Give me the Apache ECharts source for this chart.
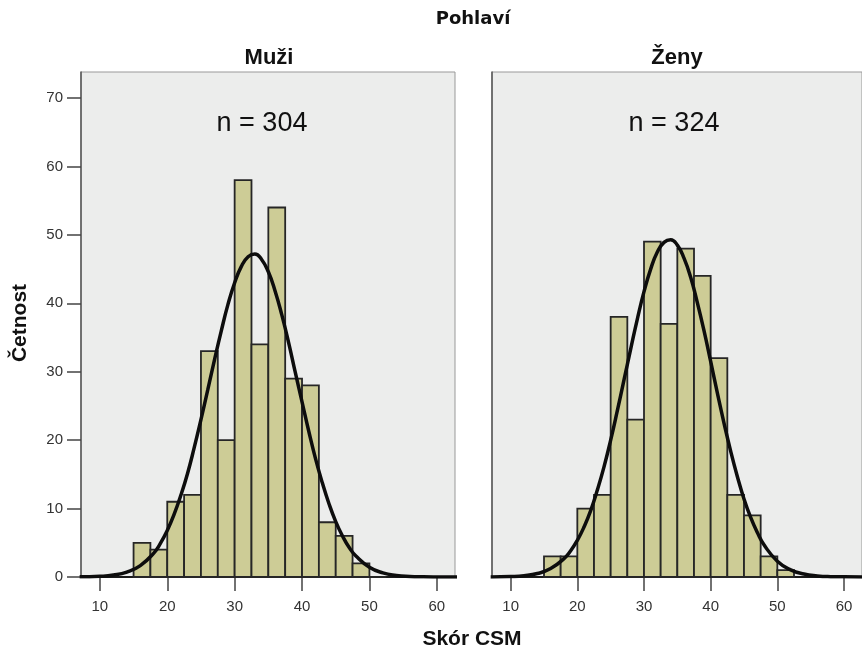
<!DOCTYPE html>
<html>
<head>
<meta charset="utf-8">
<script src="https://cdn.jsdelivr.net/npm/echarts@6.0.0/dist/echarts.min.js"></script>
<style>
  html, body { margin: 0; padding: 0; background: #fff; }
  #chart { width: 862px; height: 650px; }
</style>
</head>
<body>
<div id="chart"></div>
<script>
// histogram bins (width 2.5) and counts
var binWidth = 2.5;
var binStarts = [15, 17.5, 20, 22.5, 25, 27.5, 30, 32.5, 35, 37.5, 40, 42.5, 45, 47.5, 50];
var menCounts = [5, 4, 11, 12, 33, 20, 58, 34, 54, 29, 28, 8, 6, 2, 0];
var womenCounts = [3, 3, 10, 12, 38, 23, 49, 37, 48, 44, 32, 12, 9, 3, 1];

// normal curve as traced on the figure
var curveX = [7, 10, 12, 14, 16, 18, 19, 20, 21, 22, 23, 24, 25, 26, 27, 28, 29, 30,
  31, 32, 33, 34, 35, 36, 37, 38, 39, 40, 41, 42, 43, 44, 45, 46, 47, 48,
  50, 52, 54, 56, 58, 60, 63];
var menCurve = [0.02, 0.10, 0.28, 0.72, 1.67, 3.5, 4.95, 6.8, 9.1, 11.9, 15.1, 18.9, 23.0, 27.3, 31.7, 35.9, 39.8, 43.0,
  45.4, 46.8, 47.2, 46.4, 44.6, 41.8, 38.3, 34.3, 29.9, 25.6, 21.3, 17.3, 13.8, 10.7, 8.1, 6.0, 4.3, 3.07,
  1.43, 0.60, 0.23, 0.08, 0.03, 0.01, 0];
var womenCurve = [0.01, 0.07, 0.19, 0.51, 1.23, 2.69, 3.84, 5.36, 7.3, 9.7, 12.7, 16.1, 20.0, 24.3, 28.8, 33.3, 37.7, 41.7,
  45.0, 47.5, 48.9, 49.3, 48.5, 46.6, 43.8, 40.1, 36.0, 31.5, 26.9, 22.5, 18.4, 14.7, 11.4, 8.7, 6.5, 4.7,
  2.31, 1.04, 0.43, 0.16, 0.05, 0.02, 0];

var xTicks = [10, 20, 30, 40, 50, 60];
var yTicks = [0, 10, 20, 30, 40, 50, 60, 70];

var panelNames = ['Muži', 'Ženy'];
var panelN = ['n = 304', 'n = 324'];

var font = '"Liberation Sans", Arial, sans-serif';

var chart = echarts.init(document.getElementById('chart'));

function pairs(xs, ys) {
  return xs.map(function (x, i) { return [x, ys[i]]; });
}

function renderBin(params, api) {
  var start = api.value(0);
  var count = api.value(1);
  var p0 = api.coord([start, count]);
  var p1 = api.coord([start + binWidth, 0]);
  return {
    type: 'rect',
    shape: { x: p0[0], y: p0[1], width: p1[0] - p0[0], height: p1[1] - p0[1] },
    style: { fill: '#CDCC96', stroke: '#262626', lineWidth: 1.8 }
  };
}

function xAxisFor(i) {
  return {
    type: 'value', gridIndex: i, min: 7.2, max: 62.7,
    splitLine: { show: false },
    axisLine: { show: true, onZero: false, lineStyle: { color: '#1a1a1a', width: 2 } },
    axisTick: { show: true, customValues: xTicks, length: 14, lineStyle: { color: '#444', width: 1.5 } },
    axisLabel: { customValues: xTicks, color: '#333', fontSize: 15, fontFamily: font, margin: 22 }
  };
}

function yAxisFor(i) {
  return {
    type: 'value', gridIndex: i, min: 0, max: 73.8,
    splitLine: { show: false },
    axisLine: { show: true, lineStyle: { color: '#555', width: 1.5 } },
    axisTick: { show: i === 0, customValues: yTicks, length: 14, lineStyle: { color: '#444', width: 1.5 } },
    axisLabel: { show: i === 0, customValues: yTicks, color: '#333', fontSize: 15, fontFamily: font, margin: 18 }
  };
}

var gridStyle = { show: true, top: 72, width: 374, height: 505, backgroundColor: '#ECEDEC', borderColor: '#999', borderWidth: 1 };

var option = {
  animation: false,
  backgroundColor: '#fff',
  grid: [
    Object.assign({ left: 81 }, gridStyle),
    Object.assign({ left: 492 }, gridStyle)
  ],
  xAxis: [xAxisFor(0), xAxisFor(1)],
  yAxis: [yAxisFor(0), yAxisFor(1)],
  graphic: [
    { type: 'text', x: 473, y: 19, style: { text: 'Pohlaví', font: 'bold 18px "DejaVu Sans", sans-serif', fill: '#111', align: 'center', verticalAlign: 'middle' } },
    { type: 'text', x: 269, y: 58, style: { text: panelNames[0], font: 'bold 22px ' + font, fill: '#111', align: 'center', verticalAlign: 'middle' } },
    { type: 'text', x: 677, y: 58, style: { text: panelNames[1], font: 'bold 22px ' + font, fill: '#111', align: 'center', verticalAlign: 'middle' } },
    { type: 'text', x: 262, y: 124, style: { text: panelN[0], font: '27px ' + font, fill: '#111', align: 'center', verticalAlign: 'middle' } },
    { type: 'text', x: 674, y: 124, style: { text: panelN[1], font: '27px ' + font, fill: '#111', align: 'center', verticalAlign: 'middle' } },
    { type: 'text', x: 20, y: 323, rotation: Math.PI / 2, style: { text: 'Četnost', font: 'bold 21px ' + font, fill: '#111', align: 'center', verticalAlign: 'middle' } },
    { type: 'text', x: 472, y: 639, style: { text: 'Skór CSM', font: 'bold 21px ' + font, fill: '#111', align: 'center', verticalAlign: 'middle' } }
  ],
  series: [
    { type: 'custom', xAxisIndex: 0, yAxisIndex: 0, renderItem: renderBin, data: pairs(binStarts, menCounts), z: 2 },
    { type: 'custom', xAxisIndex: 1, yAxisIndex: 1, renderItem: renderBin, data: pairs(binStarts, womenCounts), z: 2 },
    { type: 'line', xAxisIndex: 0, yAxisIndex: 0, data: pairs(curveX, menCurve), smooth: true, showSymbol: false,
      clip: true, lineStyle: { color: '#0d0d0d', width: 3.5 }, z: 3 },
    { type: 'line', xAxisIndex: 1, yAxisIndex: 1, data: pairs(curveX, womenCurve), smooth: true, showSymbol: false,
      clip: true, lineStyle: { color: '#0d0d0d', width: 3.5 }, z: 3 }
  ]
};

option && chart.setOption(option);
</script>
</body>
</html>
